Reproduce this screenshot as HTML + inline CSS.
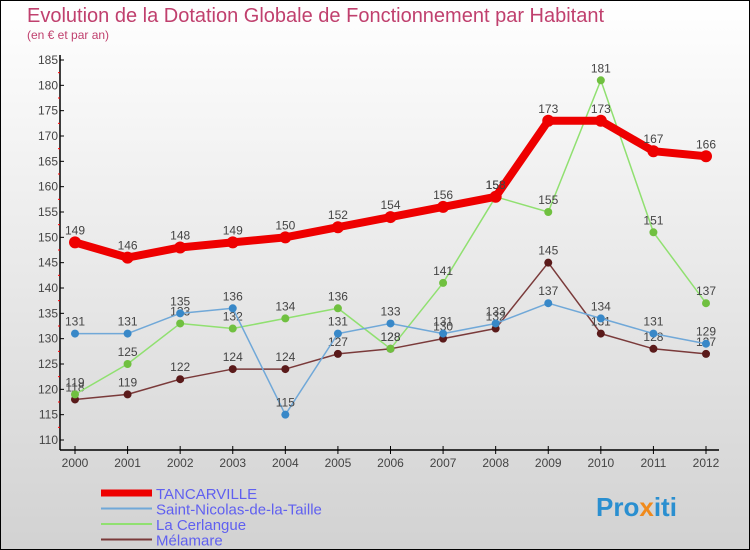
<!DOCTYPE html>
<html><head><meta charset="utf-8"><style>
html,body{margin:0;padding:0}
body{width:750px;height:550px;overflow:hidden;font-family:"Liberation Sans",sans-serif}
#wrap{position:relative;width:748px;height:548px;border:1px solid #000;background:linear-gradient(#ffffff,#d2d2d2)}
svg{position:absolute;left:0;top:0}
</style></head><body>
<div id="wrap">
<svg id="chart" width="748" height="548">
<text x="26" y="21" font-size="20" fill="#c0406e">Evolution de la Dotation Globale de Fonctionnement par Habitant</text>
<text x="26" y="38" font-size="12" fill="#c0406e">(en € et par an)</text>
<text x="595" y="515" font-size="26" font-weight="bold" fill="#2a8fd0">Pro<tspan fill="#f08a1c">x</tspan>iti</text>
</svg>
</div>
<script>
const years=[2000,2001,2002,2003,2004,2005,2006,2007,2008,2009,2010,2011,2012];
const tancarville=[149,146,148,149,150,152,154,156,158,173,173,167,166];
const saintNicolas=[131,131,135,136,115,131,133,131,133,137,134,131,129];
const laCerlangue=[119,125,133,132,134,136,128,141,158,155,181,151,137];
const melamare=[118,119,122,124,124,127,128,130,132,145,131,128,127];
const yTicks=[110,115,120,125,130,135,140,145,150,155,160,165,170,175,180,185];
const seriesNames=["TANCARVILLE","Saint-Nicolas-de-la-Taille","La Cerlangue","Mélamare"];

const svg=document.getElementById('chart');
const NS='http://www.w3.org/2000/svg';
const xS=i=>74+i*(631/12);
const yS=v=>59+(185-v)*(380/75);
function mk(t,a,p){const e=document.createElementNS(NS,t);for(const k in a)e.setAttribute(k,a[k]);(p||svg).appendChild(e);return e;}
// axes
let ax=mk('line',{x1:59,y1:54,x2:59,y2:449,stroke:'#000','stroke-width':1.5});


let ax2=mk('line',{x1:59,y1:449,x2:718,y2:449,stroke:'#000','stroke-width':1.5});


yTicks.forEach(v=>{
  mk('line',{x1:59,y1:yS(v),x2:63,y2:yS(v),stroke:'#000'});
  if(v<185)mk('line',{x1:57,y1:yS(v+2.5),x2:59,y2:yS(v+2.5),stroke:'#f00'});
  const t=mk('text',{x:57,y:yS(v)+4,'font-size':12,fill:'#444','text-anchor':'end'});
  t.textContent=v;
  
  
});
years.forEach((y,i)=>{
  mk('line',{x1:xS(i),y1:445,x2:xS(i),y2:453,stroke:'#000'});
  const t=mk('text',{x:xS(i),y:466,'font-size':12,fill:'#444','text-anchor':'middle'});
  t.textContent=y;
  
  
});
function series(data,color,w,r,dot,name){
  const g=mk('g',{});
  
  
  mk('polyline',{points:data.map((v,i)=>xS(i)+','+yS(v)).join(' '),fill:'none',stroke:color,'stroke-width':w,'stroke-linejoin':'round'},g);
  data.forEach((v,i)=>{
    const c=mk('circle',{cx:xS(i),cy:yS(v),r:r,fill:dot},g);
    
    
    const t=mk('text',{x:xS(i),y:yS(v)-8,'font-size':12,fill:'#444','text-anchor':'middle'},g);
    t.textContent=v;
    
    
  });
}
series(melamare,'#7a3a3a',1.5,4,'#5a1a1a','melamare');
series(laCerlangue,'#90e070',1.5,4,'#70c040','la-cerlangue');
series(saintNicolas,'#70a8d8',1.5,4,'#3888c8','saint-nicolas');
series(tancarville,'#ee0000',8,6,'#ee0000','tancarville');
const lc=[['#ee0000',7],['#70a8d8',2],['#90e070',2],['#7a3a3a',2]];
seriesNames.forEach((n,i)=>{
  const y=492+i*15.5;
  const g=mk('g',{});
  
  
  mk('line',{x1:100,y1:y,x2:151,y2:y,stroke:lc[i][0],'stroke-width':lc[i][1]},g);
  const t=mk('text',{x:155,y:y+6,'font-size':15,fill:'#6060f0'},g);
  t.textContent=n;
});
</script>
</body></html>
